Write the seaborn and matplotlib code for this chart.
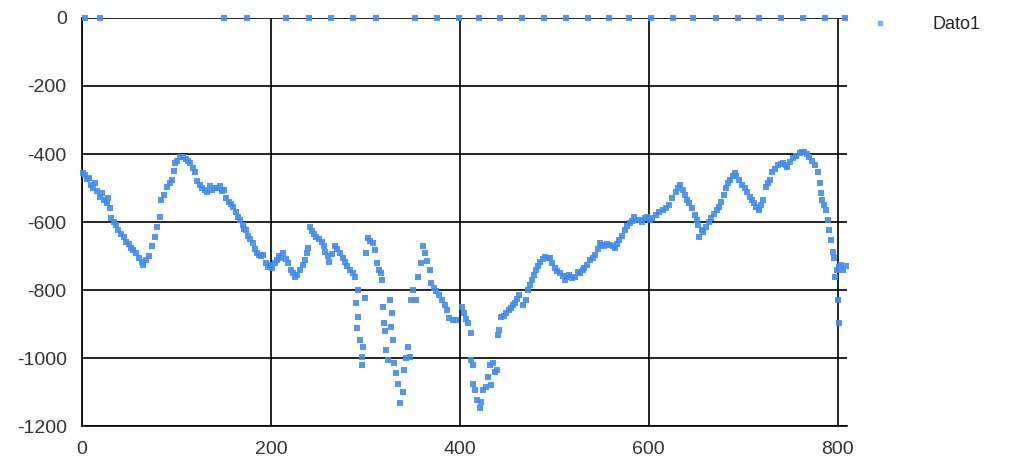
import pandas as pd
import numpy as np
import matplotlib.pyplot as plt
import seaborn as sns
from matplotlib.lines import Line2D

# Values (series "Dato1")
curve_x = [1, 3, 5, 7, 9, 12, 14, 16, 19, 21, 23, 26, 28, 30, 31, 34, 36, 38, 41, 44,
           47, 50, 52, 54, 57, 60, 63, 65, 68, 71, 74, 77, 79, 83, 84, 87, 90, 93, 95, 97,
           98, 101, 104, 107, 110, 112, 114, 117, 120, 122, 125, 127, 130, 132, 135, 138, 141, 143, 146, 148,
           150, 153, 156, 158, 160, 163, 165, 167, 170, 172, 174, 176, 178, 181, 183, 185, 187, 190, 192, 195,
           197, 199, 201, 204, 206, 209, 211, 213, 216, 218, 221, 223, 225, 228, 231, 234, 236, 238, 239, 241,
           243, 246, 248, 251, 254, 256, 257, 260, 262, 265, 268, 270, 273, 276, 278, 281, 284, 287, 289,
           290, 291, 292, 292, 294, 296, 297, 298, 300,
           301, 303, 305, 308, 310, 312, 315, 317, 318,
           319, 320, 321, 322, 324, 326, 327, 328, 329, 330, 333, 335, 337, 340, 341, 343, 345, 347,
           348, 351, 354, 356, 359, 361, 363, 365, 368, 370, 373, 375, 378, 381, 384, 386, 389, 393, 396,
           402, 405, 407, 409, 412,
           412, 414, 414, 416, 418, 421, 423, 425, 428, 430, 432, 433, 435, 437, 439,
           441, 442, 444, 447, 449, 452, 454, 456, 458, 461, 463, 467, 470, 472, 474, 476, 479, 481, 483, 485,
           488, 490, 493, 495, 498, 501, 503, 506, 509, 511, 514, 516, 519, 522, 525, 527, 530, 532, 535, 538,
           541, 543, 546, 548, 551, 553, 556, 559, 562, 564, 567, 569, 572, 575, 577, 580, 582, 585, 587, 590,
           593, 596, 598, 601, 604, 608, 611, 615, 618, 622, 625, 629, 631, 633, 636, 638, 641, 643, 646, 649,
           651, 652, 653, 656, 658, 661, 664, 666, 669, 672, 674, 677, 680, 682, 684, 686, 689, 691, 693, 696,
           699, 702, 704, 707, 709, 712, 714, 717, 719, 721, 724, 726, 728, 731, 734, 737, 740, 742, 745, 747,
           750, 753, 756, 760, 762, 765, 768, 770, 773, 776, 779, 781, 783, 784, 786, 788, 790, 791, 793, 795,
           796, 797, 799, 800, 802, 802, 804, 806, 809]
curve_y = [-455, -462, -475, -470, -490, -501, -485, -510, -526, -515, -535, -545, -530, -560, -589, -600, -610, -624, -635, -645,
           -658, -665, -675, -682, -690, -705, -717, -725, -712, -700, -672, -645, -614, -584, -535, -520, -496, -485, -476, -450,
           -427, -420, -410, -408, -415, -420, -427, -440, -452, -480, -491, -500, -505, -511, -495, -505, -500, -501, -495, -510,
           -506, -530, -540, -548, -555, -570, -585, -594, -610, -620, -624, -640, -650, -663, -680, -692, -697, -700, -697, -720,
           -731, -725, -736, -720, -712, -700, -705, -692, -710, -722, -740, -750, -761, -755, -741, -725, -712, -690, -677, -614,
           -625, -635, -643, -650, -658, -672, -687, -700, -717, -695, -672, -680, -692, -705, -717, -730, -741, -750, -761,
           -839, -913, -800, -878, -947, -996, -1021, -967, -824,
           -692, -648, -655, -663, -682, -722, -740, -751, -771,
           -849, -898, -922, -976, -1006, -829, -908, -869, -947, -1016, -1045, -1075, -1131, -1099, -1035, -1001, -967, -996,
           -829, -800, -829, -761, -722, -672, -690, -715, -741, -780, -795, -804, -815, -829, -845, -859, -883, -888, -888,
           -849, -869, -885, -898, -927,
           -1006, -1021, -1075, -1095, -1124, -1148, -1128, -1095, -1084, -1055, -1021, -1079, -1016, -1040, -1035,
           -932, -918, -878, -875, -869, -860, -854, -845, -839, -825, -815, -844, -829, -800, -785, -771, -755, -741, -728, -717,
           -708, -702, -705, -707, -720, -736, -745, -751, -760, -771, -762, -756, -765, -761, -748, -751, -740, -736, -725, -712,
           -705, -697, -680, -663, -668, -672, -665, -667, -672, -677, -665, -653, -640, -624, -612, -604, -597, -584, -594, -594,
           -600, -589, -585, -594, -587, -579, -572, -565, -560, -550, -530, -511, -500, -491, -505, -521, -535, -545, -560, -579,
           -595, -609, -643, -624, -630, -614, -600, -589, -575, -565, -555, -540, -520, -501, -485, -476, -465, -457, -465, -476,
           -490, -501, -512, -526, -535, -545, -555, -565, -550, -535, -496, -485, -476, -452, -445, -432, -428, -427, -432, -437,
           -425, -413, -405, -398, -395, -393, -400, -408, -420, -432, -452, -486, -516, -535, -550, -565, -594, -624, -653, -687,
           -707, -761, -741, -829, -898, -731, -726, -740, -730]

# dropout samples sitting on zero
zero_x = [3, 19, 150, 175, 216, 240, 264, 287, 311, 353, 376, 399, 420, 443, 466,
          489, 512, 536, 558, 579, 603, 626, 647, 671, 695, 717, 740, 763, 787, 808]

x_ticks = [0, 200, 400, 600, 800]
y_ticks = [-1200, -1000, -800, -600, -400, -200, 0]

df = pd.DataFrame({
    'x': curve_x + zero_x,
    'y': curve_y + [0] * len(zero_x),
})

sns.set_style("white")
plt.rcParams['font.family'] = ['Liberation Sans Narrow', 'Liberation Sans', 'DejaVu Sans']
plt.rcParams['axes.unicode_minus'] = False

color = '#418CF0'
fig = plt.figure(figsize=(10.17, 4.61), dpi=100)
ax = fig.add_axes([82 / 1017, 1 - 426 / 461, (847 - 82) / 1017, (426 - 18) / 461])

sns.scatterplot(data=df, x='x', y='y', ax=ax, color=color, marker='s', s=15,
                linewidth=0, alpha=0.9, clip_on=False, zorder=3)

ax.set_xlim(0, 810)
ax.set_ylim(-1200, 0)
ax.set_xticks(x_ticks)
ax.set_yticks(y_ticks)
ax.set_xlabel("")
ax.set_ylabel("")
ax.grid(True, color='black', linewidth=1.2)
ax.set_axisbelow(True)
for side in ['top', 'right']:
    ax.spines[side].set_visible(False)
for side in ['left', 'bottom']:
    ax.spines[side].set_color('black')
    ax.spines[side].set_linewidth(1.2)
ax.tick_params(length=8, width=1.2, color='black', labelsize=14, labelcolor='#333333', pad=3)

handle = Line2D([], [], marker='s', linestyle='', color=color, markersize=2.5, alpha=0.6)
fig.legend(handles=[handle], labels=['Dato1'], loc='upper left', frameon=False,
           bbox_to_anchor=(855 / 1017, 1.0), fontsize=13, handlelength=1.0, handletextpad=2.4)

fig.savefig("out.png", dpi=100)
